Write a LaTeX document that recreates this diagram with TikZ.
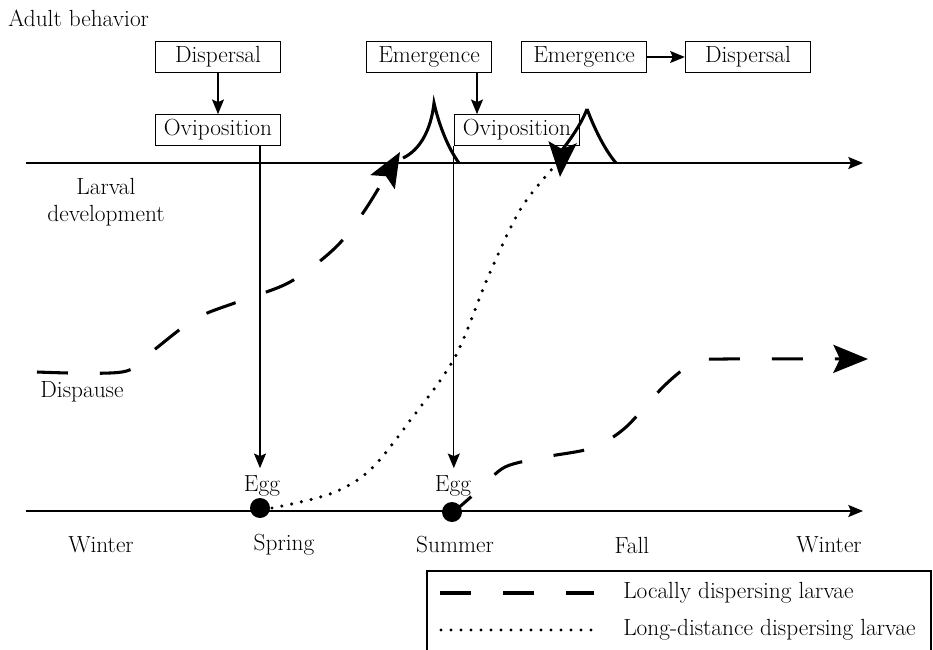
\documentclass[tikz,border=0pt]{standalone}
\usetikzlibrary{arrows.meta}

\begin{document}
\begin{tikzpicture}[x=0.75pt,y=-0.75pt,>={Stealth[length=11pt,width=9pt,inset=2pt]},
	every node/.style={font=\fontsize{17.5}{20}\selectfont},
	box/.style={draw,line width=0.8pt,minimum width=94pt,minimum height=23pt,inner sep=0pt},
	thin/.style={line width=1pt},
	achse/.style={line width=1.4pt,->},
	local/.style={line width=2.3pt,dash pattern=on 23.25pt off 24pt},
	longdist/.style={line width=2.6pt,line cap=round,dash pattern=on 0pt off 7.5pt},
	peak/.style={line width=2.3pt},
	big/.style={-{Stealth[length=26pt,width=21pt,inset=5pt]}},
	egg/.style={circle,fill,minimum size=15pt,inner sep=0pt}]
	\useasboundingbox (0,0) rectangle (933,650);
	\clip (0,0) rectangle (933,650);

	\node[anchor=west,inner sep=0pt] (adult) at (8,18) {Adult behavior};
	\node[box] (disp1) at (218,57) {Dispersal};
	\node[box] (ovi1) at (218,130) {Oviposition};
	\node[box] (emer1) at (429,57) {Emergence};
	\node[box] (ovi2) at (517,130) {Oviposition};
	\node[box] (emer2) at (584,57) {Emergence};
	\node[box] (disp2) at (748,57) {Dispersal};

	\draw[thin,->] (disp1) -- (ovi1);
	\coordinate (e1) at (477,0);
	\draw[thin,->] (emer1.south -| e1) -- (ovi2.north -| e1);
	\draw[thin,->] (emer2) -- (disp2);

	\coordinate (t0) at (26,163);
	\coordinate (t1) at (863,163);
	\coordinate (b0) at (26,511);
	\coordinate (b1) at (863,511);
	\draw[achse] (t0) -- (t1);
	\draw[achse] (b0) -- (b1);

	\node[align=center] (larval) at (106,202) {Larval\\development};
	\node (dispause) at (82,392) {Dispause};
	\foreach \x/\s in {101/Winter,284/Spring,455/Summer,632/Fall,829/Winter}
		\node (season\x) at (\x,545) {\s};

	\node[anchor=base,inner sep=2pt] (egglbl1) at (262,491) {Egg};
	\node[anchor=base,inner sep=2pt] (egglbl2) at (453,491) {Egg};
	\draw[thin,->,shorten >=3pt] (ovi1.south -| 260,0) -- (egglbl1.north -| 260,0);
	\draw[thin,->,shorten >=3pt] (ovi2.south west) -- (ovi2.south west |- egglbl2.north);

	\draw[local,big] plot[smooth,tension=0.55] coordinates {(37,372) (122,372) (150,353) (195,319) (240,301) (290,282) (335,248) (365,210) (400,152)};
	\draw[peak] (403,158) .. controls (420,150) and (431,130) .. (434,103)
		.. controls (439,125) and (448,148) .. (459,163);

	\draw[longdist] plot[smooth,tension=0.55] coordinates {(272,508) (330,494) (370,470) (412,418) (455,357) (488,277) (520,210) (553,168)};
	\draw[peak,big] (587,109) .. controls (580,128) and (562,150) .. (560,177);
	\draw[peak] (587,109) .. controls (595,130) and (605,150) .. (616,163);

	\draw[local,big,dash phase=8pt] plot[smooth,tension=0.5] coordinates {(456,510) (480,489) (505,467) (545,457) (592,448) (625,428) (665,385) (695,362) (725,359) (868,359)};

	\node[egg] (egg1) at (260,508) {};
	\node[egg] (egg2) at (452,512) {};

	\draw[line width=0.8pt] (427,660) |- (931,571) -- (931,660);
	\draw[local] (440,593) -- (594,593);
	\node[anchor=west,inner sep=0pt] (leglocal) at (623,593) {Locally dispersing larvae};
	\draw[longdist] (441,630) -- (592,630);
	\node[anchor=west,inner sep=0pt] (leglong) at (623,630) {Long-distance dispersing larvae};
\end{tikzpicture}
\end{document}
